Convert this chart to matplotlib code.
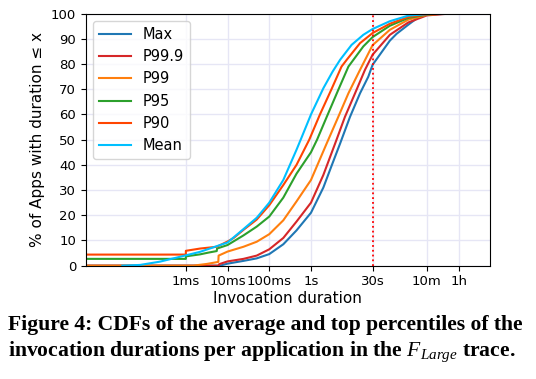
import matplotlib
matplotlib.use("Agg")
import matplotlib.pyplot as plt

plt.rcParams['mathtext.fontset'] = 'custom'
plt.rcParams['mathtext.rm'] = 'Liberation Serif'
plt.rcParams['mathtext.it'] = 'Liberation Serif:italic'

# durations in seconds, cumulative % of apps
max_x = [1e-6, 6.5e-3, 0.01, 0.024, 0.05, 0.1, 0.217, 0.45, 1.0, 1.98, 2.86, 5.0, 8.6, 15, 23.7, 30, 78, 113, 215, 370, 600, 2000, 5000]
max_y = [0, 0, 0.8, 1.9, 2.9, 4.6, 8.5, 14, 21, 31, 38, 48.5, 59, 68.4, 75, 79.7, 89.3, 92, 95.6, 98.5, 99.6, 100, 100]

p999_x = [1e-6, 6e-3, 6.3e-3, 0.01, 0.024, 0.05, 0.1, 0.217, 0.45, 1.0, 1.98, 3.8, 6.5, 11.4, 19.7, 30, 78, 215, 600, 2000, 7400]
p999_y = [0, 0, 0.6, 1.7, 2.7, 4.0, 6.5, 11, 17.5, 25, 36, 48.5, 59, 68.4, 77.7, 83.7, 91.6, 96.5, 99.3, 100, 100]

p99_x = [1e-6, 1.5e-3, 3.2e-3, 6e-3, 6.1e-3, 0.01, 0.024, 0.05, 0.1, 0.217, 0.45, 1.0, 2.38, 4.5, 7.9, 15, 30, 78, 215, 600, 1500, 7400]
p99_y = [0, 0, 0.7, 1.5, 4.0, 5.6, 7.5, 9.5, 12.5, 18, 25.5, 34, 48.5, 59, 68.4, 77.7, 87.5, 93.6, 97.6, 99.5, 100, 100]

p95_x = [1e-6, 1e-3, 1e-3, 2.2e-3, 3.5e-3, 5.5e-3, 5.6e-3, 0.01, 0.024, 0.05, 0.1, 0.217, 0.45, 1.0, 1.4, 2.38, 4.5, 7.9, 18, 30, 78, 215, 600, 1000, 7400]
p95_y = [2.7, 2.7, 3.7, 4.5, 5.2, 5.8, 6.8, 8.2, 12, 15.5, 19.5, 27, 36.5, 45, 50, 59, 69.7, 79, 87, 90.7, 95.2, 98.3, 99.6, 100, 100]

p90_x = [1e-6, 1e-3, 1e-3, 2.2e-3, 5.5e-3, 0.01, 0.014, 0.024, 0.05, 0.1, 0.217, 0.45, 0.91, 1.64, 3.1, 5.4, 7.2, 15, 30, 78, 215, 600, 1000, 7400]
p90_y = [4.4, 4.4, 5.9, 6.8, 7.5, 9.6, 11, 14.2, 18.3, 24, 32, 40, 50, 60, 70, 79, 81.7, 88.3, 92.3, 96, 98.7, 99.7, 100, 100]

mean_x = [3e-5, 8e-5, 2.4e-4, 1e-3, 2.2e-3, 0.01, 0.024, 0.05, 0.1, 0.217, 0.45, 0.6, 1.0, 1.98, 3.3, 5.0, 9.4, 18, 30, 78, 215, 600, 1000, 7400]
mean_y = [0, 0.3, 1.6, 4.1, 5.5, 9.2, 14.5, 19, 25, 34, 46, 51, 60, 70.4, 77, 81.7, 87.6, 91.6, 93.9, 97, 99.2, 99.8, 100, 100]

tick_vals = [1e-3, 1e-2, 1e-1, 1, 30, 600, 3600]
tick_labels = ['1ms', '10ms', '100ms', '1s', '30s', '10m', '1h']

fig = plt.figure(figsize=(5.36, 3.79), dpi=100)
ax = fig.add_axes([0.160, 0.299, 0.754, 0.665])

ax.plot(max_x, max_y, color='#1f77b4', lw=1.5, label='Max')
ax.plot(p999_x, p999_y, color='#d62728', lw=1.5, label='P99.9')
ax.plot(p99_x, p99_y, color='#ff7f0e', lw=1.5, label='P99')
ax.plot(p95_x, p95_y, color='#2ca02c', lw=1.5, label='P95')
ax.plot(p90_x, p90_y, color='#ff4500', lw=1.5, label='P90')
ax.plot(mean_x, mean_y, color='#00bfff', lw=1.5, label='Mean')
ax.axvline(30, color='red', ls=':', lw=1.3)

ax.set_xscale('log')
ax.set_xlim(3.98e-6, 19500)
ax.set_ylim(0, 100)
ax.set_xticks(tick_vals)
ax.set_xticklabels(tick_labels)
ax.minorticks_off()
ax.set_yticks(range(0, 101, 10))
ax.tick_params(labelsize=9.5)
ax.grid(True, color='#e6e6f5', lw=1)
ax.set_axisbelow(True)
ax.set_xlabel('Invocation duration', fontsize=11, labelpad=2)
ax.set_ylabel('% of Apps with duration ≤ x', fontsize=11)
ax.legend(loc='upper left', fontsize=10.5, handlelength=2.2)

fig.text(0.015, 0.128, 'Figure 4: CDFs of the average and top percentiles of the',
         family='Liberation Serif', weight='bold', fontsize=15.6)
fig.text(0.015, 0.062, 'invocation durations per application in the $F_{Large}$ trace.',
         family='Liberation Serif', weight='bold', fontsize=15.6)

fig.savefig('out.png', dpi=100)
